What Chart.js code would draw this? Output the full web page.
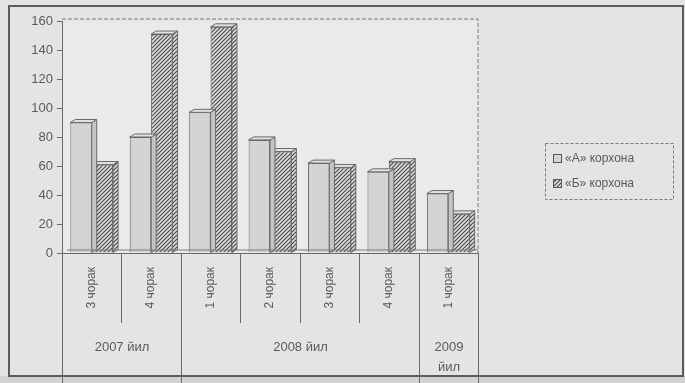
<!DOCTYPE html>
<html>
<head>
<meta charset="utf-8">
<script src="https://cdn.jsdelivr.net/npm/chart.js@4.4.0/dist/chart.umd.min.js"></script>
<style>
  html, body { margin: 0; padding: 0; background: #e4e4e4; }
  #wrap { width: 685px; height: 383px; position: relative; }
</style>
</head>
<body>
<div id="wrap"><canvas id="chart" width="685" height="383"></canvas></div>
<script>
// data
const quarters = ['3 чорак', '4 чорак', '1 чорак', '2 чорак', '3 чорак', '4 чорак', '1 чорак'];
const years = [['2007 йил'], ['2008 йил'], ['2009', 'йил']];
const yearSpans = [2, 4, 1];
const seriesA = [90, 80, 97, 78, 62, 56, 41];
const seriesB = [61, 151, 156, 70, 59, 63, 27];
const seriesNames = ['«А» корхона', '«Б» корхона'];
const yMax = 160;
const yStep = 20;

const FONT = "'Liberation Sans', Arial, sans-serif";
const TEXT = '#5a5a5a';

function stipple() {
    const c = document.createElement('canvas');
    c.width = c.height = 4;
    const g = c.getContext('2d');
    g.fillStyle = '#d6d6d6';
    g.fillRect(0, 0, 4, 4);
    g.fillStyle = '#c2c2c2';
    g.fillRect(0, 0, 1, 1);
    g.fillRect(2, 2, 1, 1);
    return g.createPattern(c, 'repeat');
}

function hatch() {
    const c = document.createElement('canvas');
    c.width = c.height = 4;
    const g = c.getContext('2d');
    g.fillStyle = '#dedede';
    g.fillRect(0, 0, 4, 4);
    g.strokeStyle = '#4c4c4c';
    g.lineWidth = 1.2;
    g.beginPath();
    g.moveTo(-1, 5); g.lineTo(5, -1);
    g.moveTo(-1, 1); g.lineTo(1, -1);
    g.moveTo(3, 5); g.lineTo(5, 3);
    g.stroke();
    return g.createPattern(c, 'repeat');
}

const fillA = stipple();
const fillB = hatch();

// little 3D side + top on every bar
const depth = {
    id: 'depth',
    afterDatasetDraw(chart, args) {
        const ctx = chart.ctx;
        const d = 5, dy = 3;
        ctx.save();
        ctx.strokeStyle = '#6a6a6a';
        ctx.lineWidth = 1;
        args.meta.data.forEach(el => {
            const p = el.getProps(['x', 'y', 'base', 'width'], true);
            const l = p.x - p.width / 2, r = p.x + p.width / 2;
            ctx.beginPath();
            ctx.moveTo(r, p.y);
            ctx.lineTo(r + d, p.y - dy);
            ctx.lineTo(r + d, p.base - dy);
            ctx.lineTo(r, p.base);
            ctx.closePath();
            ctx.fillStyle = args.index === 0 ? '#c4c4c4' : fillB;
            ctx.fill();
            ctx.stroke();
            ctx.beginPath();
            ctx.moveTo(l, p.y);
            ctx.lineTo(l + d, p.y - dy);
            ctx.lineTo(r + d, p.y - dy);
            ctx.lineTo(r, p.y);
            ctx.closePath();
            ctx.fillStyle = '#e2e2e2';
            ctx.fill();
            ctx.stroke();
        });
        ctx.restore();
    }
};

const frame = {
    id: 'frame',
    beforeDraw(chart) {
        const ctx = chart.ctx, a = chart.chartArea;
        ctx.save();
        ctx.fillStyle = '#d2d2d2';
        ctx.fillRect(0, 376, 685, 7);
        ctx.fillStyle = '#eaeaea';
        ctx.fillRect(a.left, a.top, a.right - a.left, a.bottom - a.top);
        ctx.restore();
    },
    afterDraw(chart) {
        const ctx = chart.ctx, a = chart.chartArea, xs = chart.scales.x;
        ctx.save();
        // outer frame
        ctx.strokeStyle = '#5c5c5c';
        ctx.lineWidth = 2;
        ctx.strokeRect(9, 6, 674, 370);
        // plot border, dashed top and right
        ctx.lineWidth = 1;
        ctx.strokeStyle = '#7a7a7a';
        ctx.setLineDash([4, 2]);
        ctx.beginPath();
        ctx.moveTo(a.left, a.top - 2);
        ctx.lineTo(a.right, a.top - 2);
        ctx.lineTo(a.right, a.bottom);
        ctx.stroke();
        ctx.setLineDash([]);
        // floor line
        ctx.beginPath();
        ctx.moveTo(a.left + 5, a.bottom - 3);
        ctx.lineTo(a.right, a.bottom - 3);
        ctx.stroke();

        // category separators and year labels
        const half = (xs.getPixelForValue(1) - xs.getPixelForValue(0)) / 2;
        ctx.strokeStyle = '#6a6a6a';
        ctx.fillStyle = TEXT;
        ctx.font = '13px ' + FONT;
        ctx.textAlign = 'center';
        ctx.textBaseline = 'middle';
        let start = 0;
        const edge = i => Math.round(xs.getPixelForValue(i) - half) + 0.5;
        ctx.beginPath();
        ctx.moveTo(edge(0), a.bottom);
        ctx.lineTo(edge(0), 383);
        yearSpans.forEach((n, gi) => {
            for (let k = 1; k < n; k++) {
                ctx.moveTo(edge(start + k), a.bottom);
                ctx.lineTo(edge(start + k), 323);
            }
            const x1 = edge(start + n);
            ctx.moveTo(x1, a.bottom);
            ctx.lineTo(x1, 383);
            const cx = (edge(start) + x1) / 2;
            years[gi].forEach((t, li) => ctx.fillText(t, cx, 347 + li * 20));
            start += n;
        });
        ctx.stroke();

        // legend
        const lx = 545, ly = 143;
        ctx.setLineDash([3, 2]);
        ctx.strokeStyle = '#7a7a7a';
        ctx.strokeRect(lx + 0.5, ly + 0.5, 128, 56);
        ctx.setLineDash([]);
        ctx.font = '12px ' + FONT;
        ctx.textAlign = 'left';
        [fillA, fillB].forEach((f, i) => {
            const yy = ly + 15 + i * 25;
            ctx.fillStyle = f;
            ctx.fillRect(lx + 8, yy - 4, 8, 8);
            ctx.strokeStyle = '#555';
            ctx.strokeRect(lx + 8.5, yy - 3.5, 8, 8);
            ctx.fillStyle = TEXT;
            ctx.fillText(seriesNames[i], lx + 20, yy + 1);
        });
        ctx.restore();
    }
};

new Chart(document.getElementById('chart'), {
    type: 'bar',
    data: {
        labels: quarters,
        datasets: [{
            label: seriesNames[0],
            data: seriesA,
            backgroundColor: fillA,
            borderColor: '#6a6a6a',
            borderWidth: 1
        }, {
            label: seriesNames[1],
            data: seriesB,
            backgroundColor: fillB,
            borderColor: '#555',
            borderWidth: 1
        }]
    },
    options: {
        responsive: false,
        animation: false,
        layout: { padding: { left: 8, top: 21, right: 207, bottom: 0 } },
        datasets: { bar: { categoryPercentage: 0.72, barPercentage: 1.0, grouped: true } },
        plugins: { legend: { display: false }, tooltip: { enabled: false } },
        scales: {
            x: {
                grid: { display: false },
                border: { display: true, color: '#6a6a6a' },
                ticks: {
                    autoSkip: false, minRotation: 90, maxRotation: 90,
                    padding: 6, color: TEXT, font: { family: FONT, size: 12 }
                },
                afterFit(s) { s.height = 130; }
            },
            y: {
                min: 0, max: yMax,
                grid: { drawOnChartArea: false, tickLength: 5, color: '#6a6a6a' },
                border: { display: true, color: '#6a6a6a' },
                ticks: {
                    stepSize: yStep, padding: 4, color: TEXT,
                    font: { family: FONT, size: 13 }
                },
                afterFit(s) { s.width = 54; }
            }
        }
    },
    plugins: [depth, frame]
});
</script>
</body>
</html>
